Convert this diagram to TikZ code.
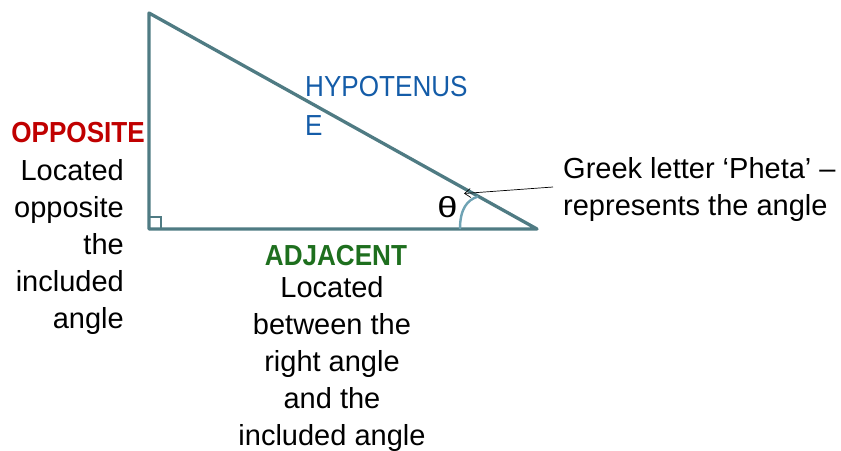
\documentclass[tikz,border=0pt]{standalone}
\usepackage{fontspec}
\setmainfont{Liberation Sans}
\newfontfamily\titlefont[FakeStretch=0.9]{Liberation Sans}
\newfontfamily\thetafont[FakeStretch=1.25]{Liberation Sans}
\usetikzlibrary{arrows.meta}
\definecolor{tri}{HTML}{4F7B83}
\definecolor{arcc}{HTML}{6FA3B4}
\definecolor{oppred}{HTML}{C00000}
\definecolor{hypblue}{HTML}{145CA8}
\definecolor{adjgreen}{HTML}{1E6F1E}
\tikzset{
  body/.style={inner sep=0pt, font=\fontsize{29}{37}\selectfont},
  titletxt/.style={inner sep=0pt, font=\titlefont\bfseries\fontsize{29}{36}\selectfont},
  side/.style={draw=tri, line width=3.3pt, line join=round},
}
\begin{document}
\begin{tikzpicture}[x=1pt,y=-1pt]
\useasboundingbox (0,0) rectangle (841,450);
% vertices
\coordinate (A) at (149,13);
\coordinate (B) at (149,229);
\coordinate (C) at (537,229);
\draw[side] (A) -- (B) -- (C) -- cycle;
% right angle mark
\draw[draw=tri, line width=2.2pt] (149,217) -- (161,217) -- (161,229);
% angle arc
\coordinate (arcS) at (460,229);
\coordinate (arcE) at (478,196.5);
\draw[draw=arcc, line width=2.4pt] (arcS) .. controls (460,209) and (467,200) .. (arcE);
% theta
\node[inner sep=0pt, font=\thetafont\fontsize{29}{36}\selectfont] (theta) at (447.5,207.5) {θ};
% titles
\node[titletxt, text=oppred, anchor=base east] (opp) at (145,142) {OPPOSITE};
\node[body, align=right, anchor=north east] (oppbody) at (124,159) {Located\\opposite\\the\\included\\angle};
\node[titletxt, text=adjgreen, anchor=base] (adj) at (336,265) {ADJACENT};
\node[body, align=center, anchor=north] (adjbody) at (332,276) {Located\\between the\\right angle\\and the\\included angle};
\node[inner sep=0pt, text=hypblue, font=\titlefont\fontsize{29}{39}\selectfont, align=left, anchor=north west] (hyp) at (305,76) {HYPOTENUS\\E};
\node[inner sep=0pt, font=\fontsize{29}{37}\selectfont, align=left, anchor=north west] (greek) at (563,157) {Greek letter ‘Pheta’ –\\represents the angle};
% pointer
\coordinate (ptail) at (553,187);
\coordinate (phead) at (464,193.5);
\draw[line width=0.7pt, -{Straight Barb[length=6pt,width=9pt]}] (ptail) -- (phead);
\end{tikzpicture}
\end{document}
